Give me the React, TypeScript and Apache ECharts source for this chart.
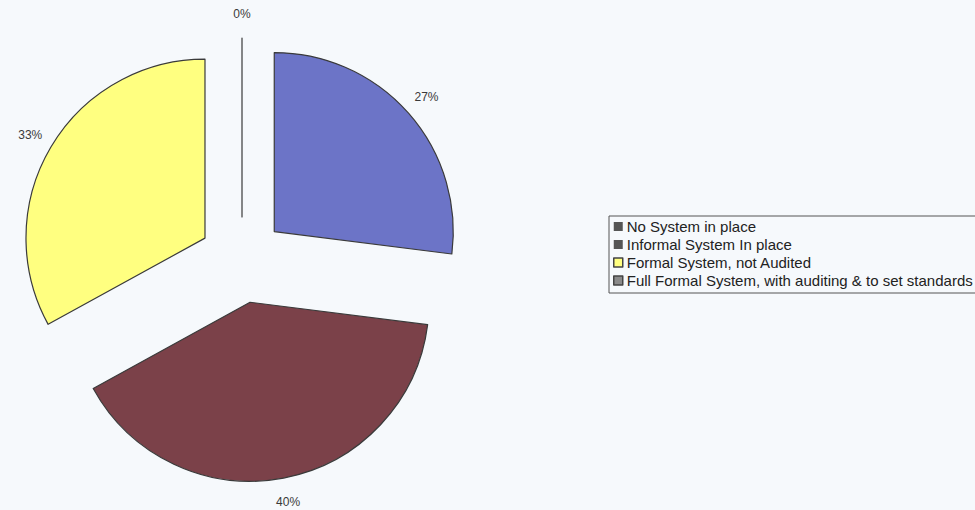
import React, { useEffect, useRef } from "react";
import * as echarts from "echarts";

const categories = [
  "No System in place",
  "Informal System In place",
  "Formal System, not Audited",
  "Full Formal System, with auditing & to set standards",
];
const values = [27, 40, 33, 0];
const sliceColors = ["#6c74c7", "#7b4149", "#ffff80", "#9a9a9a"];
const legendMarkerColors = ["#555555", "#555555", "#ffff80", "#8a8a8a"];

export default function App() {
  const ref = useRef<HTMLDivElement>(null);
  useEffect(() => {
    if (!ref.current) return;
    const chart = echarts.init(ref.current, undefined, { renderer: "svg" });
    chart.setOption({
      animation: false,
      backgroundColor: "#f6f9fc",
      legend: {
        orient: "vertical",
        left: 609,
        top: 216,
        padding: [3, 40, 5, 4],
        itemGap: 3,
        itemWidth: 9,
        itemHeight: 9,
        icon: "rect",
        borderColor: "#555",
        borderWidth: 1,
        selectedMode: false,
        textStyle: {
          fontFamily: "Liberation Sans, Arial, sans-serif",
          fontSize: 15,
          color: "#222",
          padding: [0, 0, 0, -1],
        },
        data: categories.map((name, i) => ({
          name,
          itemStyle: {
            color: legendMarkerColors[i],
            borderColor: "#444",
            borderWidth: i >= 2 ? 1.5 : 0,
          },
        })),
      },
      series: [
        {
          type: "pie",
          center: [242, 260],
          radius: 179,
          startAngle: 90,
          clockwise: true,
          selectedMode: "multiple",
          selectedOffset: 43,
          avoidLabelOverlap: false,
          itemStyle: { borderColor: "#3a3a3a", borderWidth: 1.2 },
          label: {
            show: true,
            position: "outside",
            formatter: "{c}%",
            fontFamily: "Liberation Sans, Arial, sans-serif",
            fontSize: 12,
            color: "#3a3a3a",
            distanceToLabelLine: 0,
          },
          labelLine: { show: false, length: 24, length2: 0 },
          labelLayout: () => ({ align: "center" }),
          emphasis: { disabled: true },
          data: categories.map((name, i) => ({
            name,
            value: values[i],
            selected: true,
            itemStyle: { color: sliceColors[i] },
          })),
        },
      ],
    });
    return () => chart.dispose();
  }, []);
  return (
    <div
      ref={ref}
      style={{ position: "absolute", left: 0, top: 0, width: 975, height: 510 }}
    />
  );
}
